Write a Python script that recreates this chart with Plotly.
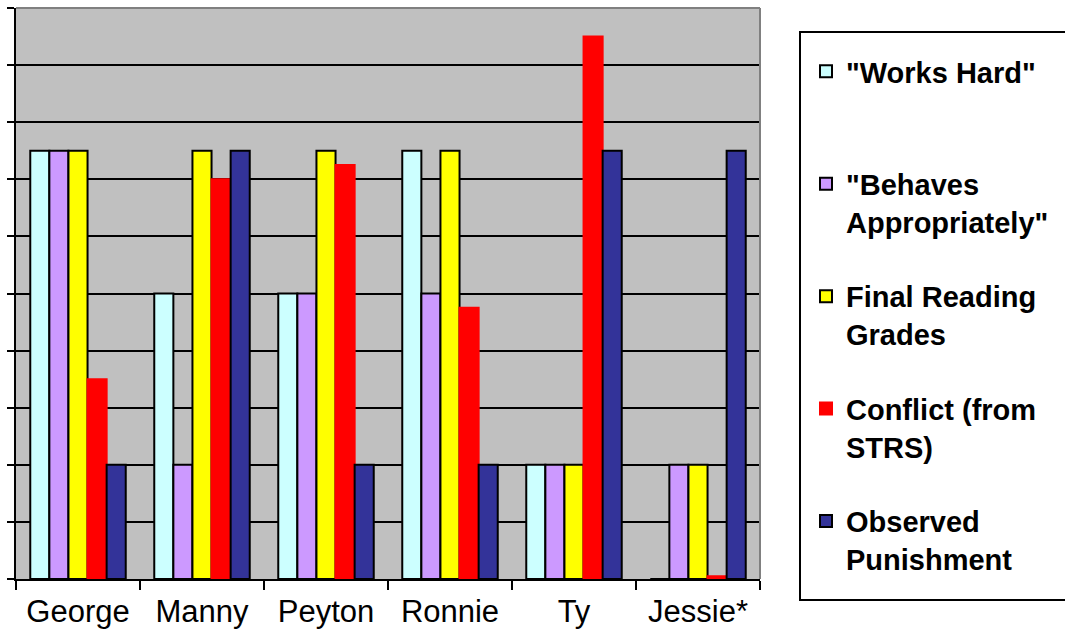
import plotly.graph_objects as go

categories = ["George", "Manny", "Peyton", "Ronnie", "Ty", "Jessie*"]

series_names = [
    '"Works Hard"<br> ',
    '"Behaves<br>Appropriately"',
    'Final Reading<br>Grades',
    'Conflict (from<br>STRS)',
    'Observed<br>Punishment',
]

works_hard = [7.5, 5, 5, 7.5, 2, 0]
behaves = [7.5, 2, 5, 5, 2, 2]
reading = [7.5, 7.5, 7.5, 7.5, 2, 2]
conflict = [3.5, 7, 7.25, 4.75, 9.5, 0.05]
punishment = [2, 7.5, 2, 2, 7.5, 7.5]

values = [works_hard, behaves, reading, conflict, punishment]
colors = ["#CCFFFF", "#CC99FF", "#FFFF00", "#FF0000", "#333399"]
edges = ["#000000", "#000000", "#000000", "#FF0000", "#000000"]

fig = go.Figure()
for i, (name, vals, col, edge) in enumerate(zip(series_names, values, colors, edges)):
    fig.add_trace(go.Bar(
        x=categories, y=vals, name=name,
        marker=dict(color=col, line=dict(color=edge, width=2)),
        legendgroup=f"g{i}",
    ))

W, H = 1065, 634
L, R, T, B = 16, 305, 8, 55
pw = W - L - R
ph = H - T - B

def px_x(x):
    return (x - L) / pw

def px_y(y):
    return (H - B - y) / ph

font = "Arial, Liberation Sans, sans-serif"

fig.update_layout(
    width=W, height=H,
    margin=dict(l=L, r=R, t=T, b=B, pad=0, autoexpand=False),
    paper_bgcolor="white",
    plot_bgcolor="#C0C0C0",
    barmode="group",
    bargap=0.23,
    bargroupgap=0,
    font=dict(family=font, color="black"),
    legend=dict(
        x=px_x(806), xanchor="left",
        y=px_y(46), yanchor="top",
        traceorder="grouped",
        tracegroupgap=34,
        valign="top",
        font=dict(family=font, size=29, color="black", weight="bold"),
        bgcolor="rgba(0,0,0,0)",
        borderwidth=0,
    ),
    xaxis=dict(
        showline=True, linecolor="black", linewidth=2,
        ticks="outside", tickson="boundaries", ticklen=9, tickwidth=2, tickcolor="black",
        tickfont=dict(family=font, size=31, color="black"),
        ticklabelstandoff=4,
        showgrid=False,
        automargin=False,
    ),
    yaxis=dict(
        range=[0, 10], dtick=1,
        showline=True, linecolor="black", linewidth=2,
        ticks="outside", ticklen=7, tickwidth=2, tickcolor="black",
        showticklabels=False,
        showgrid=True, gridcolor="black", gridwidth=2,
        zeroline=False,
        automargin=False,
    ),
    shapes=[
        dict(type="line", xref="paper", yref="paper", x0=0, x1=1, y0=1, y1=1,
             line=dict(color="#808080", width=2), layer="above"),
        dict(type="line", xref="paper", yref="paper", x0=1, x1=1, y0=0, y1=1,
             line=dict(color="#808080", width=2), layer="above"),
        dict(type="rect", xref="paper", yref="paper",
             x0=px_x(800), x1=px_x(1075), y0=px_y(600), y1=px_y(32),
             line=dict(color="black", width=2), fillcolor="rgba(0,0,0,0)"),
    ],
)

fig.write_html("out.html")
